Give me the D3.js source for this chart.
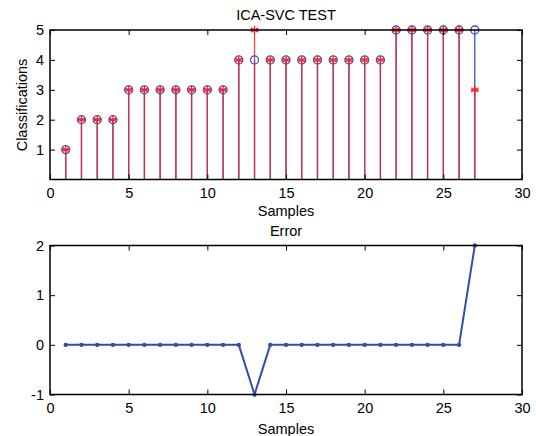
<!DOCTYPE html>
<meta charset="utf-8">
<script src="https://d3js.org/d3.v7.min.js"></script>
<style>
  body { margin: 0; background: #fff; }
  text { font-family: "Liberation Sans", Arial, sans-serif; }
</style>
<div id="chart"></div>
<script>

// Data
var samples   = [1,2,3,4,5,6,7,8,9,10,11,12,13,14,15,16,17,18,19,20,21,22,23,24,25,26,27];
var target    = [1,2,2,2,3,3,3,3,3,3,3,4,4,4,4,4,4,4,4,4,4,5,5,5,5,5,5];
var predicted = [1,2,2,2,3,3,3,3,3,3,3,4,5,4,4,4,4,4,4,4,4,5,5,5,5,5,3];
var errors    = target.map(function(t, i) { return t - predicted[i]; });
var xTicks    = [0,5,10,15,20,25,30];
var yTicksTop = [1,2,3,4,5];
var yTicksBot = [-1,0,1,2];

var W = 536, H = 436;
var svg = d3.select("#chart").append("svg")
  .attr("width", W).attr("height", H);

var left = 50, right = 522;
var blue = "#3a56b8", red = "#f0242c";
var fs = 14.5;
var fmt = function(d) { return String(d); };

// ---------- top subplot ----------
var x1 = d3.scaleLinear().domain([0,30]).range([left, right]);
var y1 = d3.scaleLinear().domain([0,5]).range([179.5, 30]);

function box(x, y, xt, yt) {
  var g = svg.append("g");
  var y0 = y.range()[0], yT = y.range()[1];
  // bottom axis with labels
  g.append("g").attr("transform", "translate(0," + y0 + ")")
    .call(d3.axisBottom(x).tickValues(xt).tickFormat(fmt).tickSizeInner(-5).tickSizeOuter(0).tickPadding(8))
    .call(function(a) { a.select(".domain").remove(); a.selectAll("text").attr("font-size", fs).attr("fill", "#000"); });
  // top ticks
  g.append("g").attr("transform", "translate(0," + yT + ")")
    .call(d3.axisTop(x).tickValues(xt).tickSizeInner(-5).tickSizeOuter(0).tickFormat(""))
    .call(function(a) { a.select(".domain").remove(); });
  // left axis with labels
  g.append("g").attr("transform", "translate(" + left + ",0)")
    .call(d3.axisLeft(y).tickValues(yt).tickFormat(fmt).tickSizeInner(-5).tickSizeOuter(0).tickPadding(6))
    .call(function(a) { a.select(".domain").remove(); a.selectAll("text").attr("font-size", fs).attr("fill", "#000"); });
  // right ticks
  g.append("g").attr("transform", "translate(" + right + ",0)")
    .call(d3.axisRight(y).tickValues(yt).tickSizeInner(-5).tickSizeOuter(0).tickFormat(""))
    .call(function(a) { a.select(".domain").remove(); });
  g.append("rect")
    .attr("x", left).attr("y", yT)
    .attr("width", right - left).attr("height", y0 - yT)
    .attr("fill", "none").attr("stroke", "#000").attr("stroke-width", 1.5);
}

var g1 = svg.append("g");
// target stems
g1.selectAll(".tstem").data(samples).enter().append("line")
  .attr("x1", function(d) { return x1(d); }).attr("x2", function(d) { return x1(d); })
  .attr("y1", y1(0)).attr("y2", function(d, i) { return y1(target[i]); })
  .attr("stroke", blue).attr("stroke-width", 1.3);
// predicted stems
g1.selectAll(".pstem").data(samples).enter().append("line")
  .attr("x1", function(d) { return x1(d); }).attr("x2", function(d) { return x1(d); })
  .attr("y1", y1(0)).attr("y2", function(d, i) { return y1(predicted[i]); })
  .attr("stroke", red).attr("stroke-width", 1.3).attr("stroke-opacity", 0.85);
// target circles
g1.selectAll(".tcirc").data(samples).enter().append("circle")
  .attr("cx", function(d) { return x1(d); })
  .attr("cy", function(d, i) { return y1(target[i]); })
  .attr("r", 4).attr("fill", "none").attr("stroke", blue).attr("stroke-width", 1.3);
// asterisk markers
g1.selectAll(".pstar").data(samples).enter().append("g")
  .attr("transform", function(d, i) { return "translate(" + x1(d) + "," + y1(predicted[i]) + ")"; })
  .each(function() {
    var s = d3.select(this), r = 4.2;
    [0, 60, 120].forEach(function(a) {
      var rad = a * Math.PI / 180;
      s.append("line")
        .attr("x1", -r * Math.sin(rad)).attr("y1", -r * Math.cos(rad))
        .attr("x2", r * Math.sin(rad)).attr("y2", r * Math.cos(rad))
        .attr("stroke", red).attr("stroke-width", 1.3);
    });
    s.append("line").attr("x1", -r).attr("x2", r).attr("y1", 0).attr("y2", 0)
      .attr("stroke", red).attr("stroke-width", 1.3);
  });

box(x1, y1, xTicks, yTicksTop);

svg.append("text").attr("x", (left + right) / 2).attr("y", 20)
  .attr("text-anchor", "middle").attr("font-size", fs).text("ICA-SVC TEST");
svg.append("text").attr("x", (left + right) / 2).attr("y", 216)
  .attr("text-anchor", "middle").attr("font-size", fs).text("Samples");
svg.append("text").attr("transform", "translate(27,105) rotate(-90)")
  .attr("text-anchor", "middle").attr("font-size", fs).text("Classifications");

// ---------- bottom subplot ----------
var x2 = d3.scaleLinear().domain([0,30]).range([left, right]);
var y2 = d3.scaleLinear().domain([-1,2]).range([394.5, 245.5]);

var g2 = svg.append("g");
g2.append("path").datum(errors)
  .attr("d", d3.line()
    .x(function(d, i) { return x2(samples[i]); })
    .y(function(d) { return y2(d); }))
  .attr("fill", "none").attr("stroke", "#2f4fa6").attr("stroke-width", 2);
g2.selectAll("circle").data(errors).enter().append("circle")
  .attr("cx", function(d, i) { return x2(samples[i]); })
  .attr("cy", function(d) { return y2(d); })
  .attr("r", 2.2).attr("fill", "#2f4fa6");

box(x2, y2, xTicks, yTicksBot);

svg.append("text").attr("x", (left + right) / 2).attr("y", 236)
  .attr("text-anchor", "middle").attr("font-size", fs).text("Error");
svg.append("text").attr("x", (left + right) / 2).attr("y", 434)
  .attr("text-anchor", "middle").attr("font-size", fs).text("Samples");

</script>
